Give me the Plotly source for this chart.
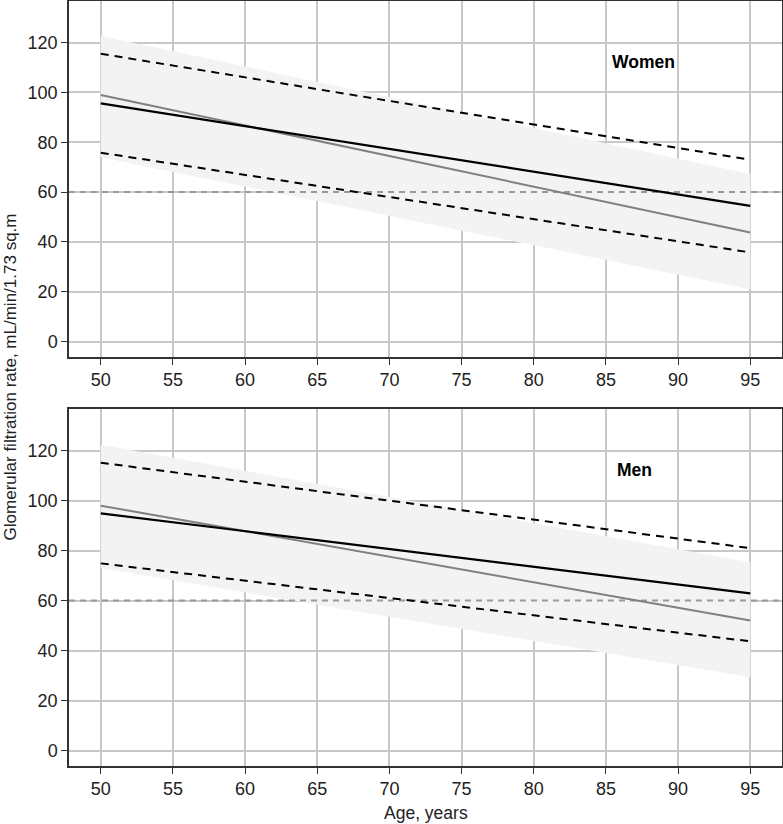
import plotly.graph_objects as go

ages = [50, 95]

# Women (top panel)
w_mean = [95.6, 54.5]          # black solid
w_gray = [99.0, 43.8]          # gray solid
w_upper = [115.5, 73.0]        # dashed upper
w_lower = [75.8, 35.8]         # dashed lower
w_band_hi = [122.7, 67.3]      # shaded band
w_band_lo = [74.0, 21.0]

# Men (bottom panel)
m_mean = [94.9, 62.9]
m_gray = [98.0, 52.0]
m_upper = [115.2, 81.0]
m_lower = [74.9, 43.7]
m_band_hi = [122.4, 75.3]
m_band_lo = [73.0, 29.3]

ref_level = 60
x_ticks = [50, 55, 60, 65, 70, 75, 80, 85, 90, 95]
y_ticks = [0, 20, 40, 60, 80, 100, 120]

FONT = "Liberation Sans, Arial, sans-serif"
fig = go.Figure()

def add_panel(xa, ya, mean, gray, upper, lower, bhi, blo):
    fig.add_trace(go.Scatter(x=ages, y=bhi, mode="lines", line=dict(width=0),
                             xaxis=xa, yaxis=ya, showlegend=False, hoverinfo="skip"))
    fig.add_trace(go.Scatter(x=ages, y=blo, mode="lines", line=dict(width=0),
                             fill="tonexty", fillcolor="#f3f3f3",
                             xaxis=xa, yaxis=ya, showlegend=False, hoverinfo="skip"))
    fig.add_trace(go.Scatter(x=[47.8, 97.2], y=[ref_level, ref_level], mode="lines",
                             line=dict(color="#999999", width=2, dash="6px,5px"),
                             xaxis=xa, yaxis=ya, showlegend=False))
    for ys in (upper, lower):
        fig.add_trace(go.Scatter(x=ages, y=ys, mode="lines",
                                 line=dict(color="black", width=2, dash="8px,6px"),
                                 xaxis=xa, yaxis=ya, showlegend=False))
    fig.add_trace(go.Scatter(x=ages, y=gray, mode="lines",
                             line=dict(color="#808080", width=2),
                             xaxis=xa, yaxis=ya, showlegend=False))
    fig.add_trace(go.Scatter(x=ages, y=mean, mode="lines",
                             line=dict(color="black", width=2.2),
                             xaxis=xa, yaxis=ya, showlegend=False))

add_panel("x", "y", w_mean, w_gray, w_upper, w_lower, w_band_hi, w_band_lo)
add_panel("x2", "y2", m_mean, m_gray, m_upper, m_lower, m_band_hi, m_band_lo)

xcommon = dict(range=[47.8, 97.2], tickvals=x_ticks, showgrid=True, gridcolor="#c8c8c8",
               gridwidth=1.5, showline=True, linecolor="#333333", linewidth=1.5, mirror=True,
               ticks="outside", ticklen=6, tickcolor="#333333", tickwidth=1.2,
               tickfont=dict(size=18, color="#222222", family=FONT), zeroline=False,
               automargin=False)
ycommon = dict(range=[-6.2, 136.7], tickvals=y_ticks, showgrid=True, gridcolor="#c8c8c8",
               gridwidth=1.5, showline=True, linecolor="#333333", linewidth=1.5, mirror=True,
               ticks="outside", ticklen=6, tickcolor="#333333", tickwidth=1.2,
               tickfont=dict(size=18, color="#222222", family=FONT), zeroline=False,
               automargin=False)

fig.update_layout(
    width=783, height=824,
    margin=dict(l=69, r=1, t=1, b=58),
    plot_bgcolor="white", paper_bgcolor="white",
    font=dict(family=FONT, color="#222222"),
    xaxis=dict(domain=[0, 1], anchor="y", **xcommon),
    yaxis=dict(domain=[0.5346, 1], anchor="x", **ycommon),
    xaxis2=dict(domain=[0, 1], anchor="y2", **xcommon),
    yaxis2=dict(domain=[0, 0.4667], anchor="x2", **ycommon),
    annotations=[
        dict(text="<b>Women</b>", x=87.6, y=112.3, xref="x", yref="y", showarrow=False,
             font=dict(size=17.5, color="black", family=FONT)),
        dict(text="<b>Men</b>", x=87.0, y=112.3, xref="x2", yref="y2", showarrow=False,
             font=dict(size=17.5, color="black", family=FONT)),
        dict(text="Age, years", x=0.5, y=-0.062, xref="paper", yref="paper", showarrow=False,
             xanchor="center", yanchor="middle", font=dict(size=17.5, color="#222222", family=FONT)),
        dict(text="Glomerular filtration rate, mL/min/1.73 sq.m", x=-0.0827, y=0.508,
             xref="paper", yref="paper", showarrow=False, textangle=-90,
             xanchor="center", yanchor="middle", font=dict(size=17, color="#222222", family=FONT)),
    ],
)

fig.write_html("out.html", config={"displayModeBar": False},
               post_script="document.body.style.margin='0';document.body.style.overflow='hidden';")
